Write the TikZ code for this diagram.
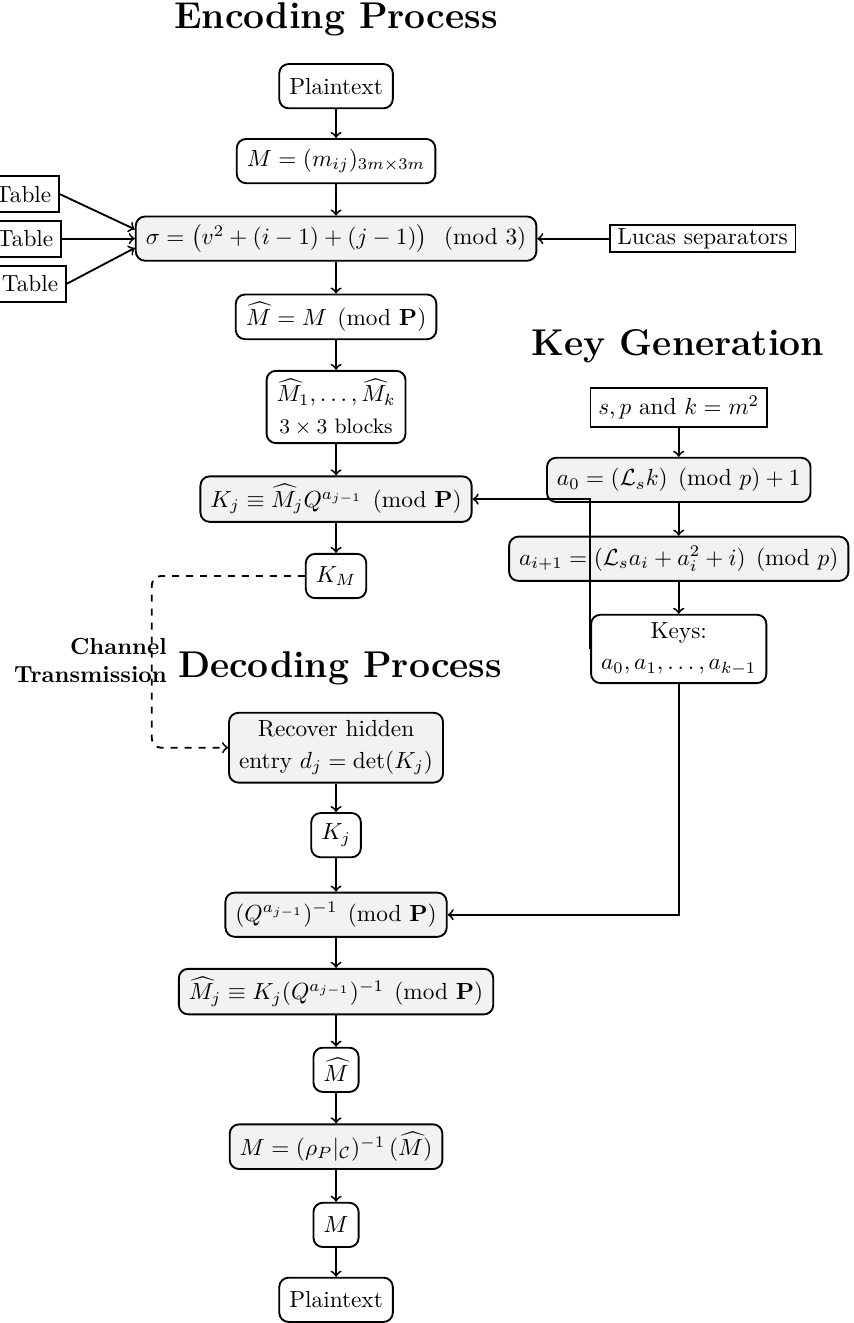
\documentclass[tikz,border=0pt]{standalone}
\usepackage{amsmath}
\usepackage{amssymb}

\begin{document}
\begin{tikzpicture}[
  box/.style={draw, thick, rounded corners, minimum height=19pt, inner xsep=4.3pt, align=center},
  grey/.style={box, fill=gray!10},
  tbl/.style={draw, thick},
  title/.style={font=\bfseries\fontsize{16}{19}\selectfont},
  arr/.style={->, thick}
]
  \useasboundingbox (0,0) rectangle (12.88,-19.96);

  % titles
  \node[title] (enc) at (5.07,-0.29) {Encoding Process};
  \node[title] (keygen) at (10.23,-5.22) {Key Generation};
  \node[title] (dec) at (5.13,-10.08) {Decoding Process};

  % encoding
  \node[box] (plain1) at (5.07,-1.30) {Plaintext};
  \node[box] (mmat) at (5.07,-2.43) {$M=(m_{ij})_{3m\times 3m}$};
  \node[grey] (sigma) at (5.07,-3.60) {$\sigma=\bigl(v^2+(i-1)+(j-1)\bigr)\;\pmod{3}$};
  \node[box] (mhat) at (5.07,-4.78) {$\widehat{M}=M\pmod{\mathbf{P}}$};
  \node[box] (blocks) at (5.07,-6.14) {$\widehat{M}_1,\dots,\widehat{M}_k$\\[1.5pt] {\small $3\times 3$ blocks}};
  \node[grey] (kj) at (5.07,-7.53) {$K_j\equiv\widehat{M}_jQ^{a_{j-1}}\pmod{\mathbf{P}}$};
  \node[box] (km) at (5.07,-8.69) {$K_M$};

  \node[tbl, minimum height=15.5pt, anchor=east] (tab1) at (0.905,-2.93) {Table};
  \node[tbl, minimum height=15.5pt, anchor=east] (tab2) at (0.935,-3.60) {Table};
  \node[tbl, minimum height=15.5pt, anchor=east] (tab3) at (1.01,-4.28) {Table};
  \node[tbl, inner ysep=1.5pt] (lucas) at (10.60,-3.60) {Lucas separators};

  % key generation
  \node[tbl] (spk) at (10.24,-6.15) {$s,p$ and $k=m^2$};
  \node[grey] (a0) at (10.24,-7.24) {$a_0=(\mathcal{L}_sk)\pmod{p}+1$};
  \node[grey] (ai) at (10.24,-8.43) {$a_{i+1}=(\mathcal{L}_sa_i+a_i^2+i)\pmod{p}$};
  \node[box] (keys) at (10.24,-9.79) {Keys:\\[1.5pt] $a_0,a_1,\dots,a_{k-1}$};

  % decoding
  \node[grey] (recover) at (5.07,-11.28) {Recover hidden\\[1.5pt] entry $d_j=\det(K_j)$};
  \node[box] (kj2) at (5.07,-12.60) {$K_j$};
  \node[grey] (qinv) at (5.07,-13.80) {$(Q^{a_{j-1}})^{-1}\pmod{\mathbf{P}}$};
  \node[grey] (mhatj) at (5.07,-14.96) {$\widehat{M}_j\equiv K_j(Q^{a_{j-1}})^{-1}\pmod{\mathbf{P}}$};
  \node[box] (mhat2) at (5.07,-16.14) {$\widehat{M}$};
  \node[grey] (minv) at (5.07,-17.30) {$M=(\rho_P|_{\mathcal{C}})^{-1}\,(\widehat{M})$};
  \node[box] (mfin) at (5.07,-18.48) {$M$};
  \node[box] (plain2) at (5.07,-19.61) {Plaintext};

  \node[font=\bfseries, align=right, anchor=east] (chan) at (2.64,-9.97) {Channel\\Transmission};
  \coordinate (bend) at (2.29,-10);

  % arrows
  \foreach \a/\b in {plain1/mmat, mmat/sigma, sigma/mhat, mhat/blocks, blocks/kj, kj/km,
    recover/kj2, kj2/qinv, qinv/mhatj, mhatj/mhat2, mhat2/minv, minv/mfin, mfin/plain2,
    spk/a0, a0/ai, ai/keys}
  {
  \draw[arr] (\a) -- (\b);
  }
  \draw[arr] (tab1.east) -- ([yshift=4pt]sigma.west);
  \draw[arr] (tab2.east) -- (sigma.west);
  \draw[arr] (tab3.east) -- ([yshift=-4pt]sigma.west);
  \draw[arr] (lucas) -- (sigma);
  \draw[arr] (keys.west) |- (kj.east);
  \draw[arr] (keys.south) |- (qinv.east);
  \draw[arr, dashed, rounded corners] (km.west) -- (km.west -| bend) |- (recover.west);
\end{tikzpicture}
\end{document}
